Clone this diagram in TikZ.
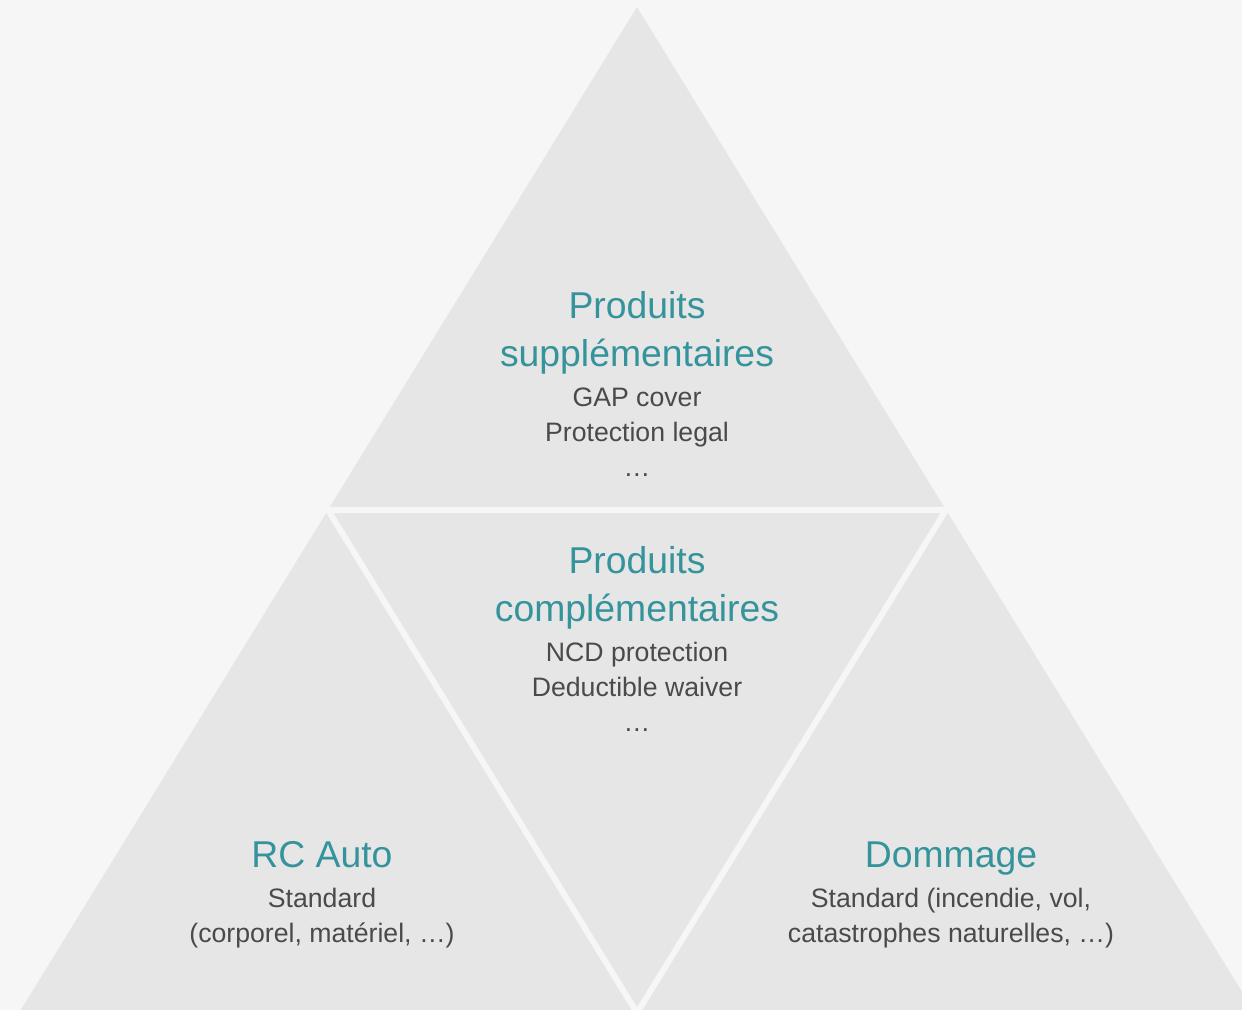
\documentclass[tikz,border=0pt]{standalone}
\usepackage{fontspec}
\setmainfont{Liberation Sans}

\definecolor{fond}{HTML}{F6F6F6}
\definecolor{gris}{HTML}{E6E6E6}
\definecolor{sarcelle}{HTML}{35949B}
\definecolor{texte}{HTML}{4A4A4A}

\tikzset{
  titre/.style={anchor=base, inner sep=0pt, text=sarcelle, font=\fontsize{28}{34}\selectfont},
  detail/.style={anchor=base, inner sep=0pt, text=texte, font=\fontsize{20}{24}\selectfont},
  coupure/.style={draw=fond, line width=4.5pt, line cap=rect}
}

\begin{document}
\begin{tikzpicture}[x=0.75pt, y=0.75pt]
    \fill[fond] (0,0) rectangle (1242,1010);
    \useasboundingbox (0,0) rectangle (1242,1010);
    \clip (0,0) rectangle (1242,1010);

    \coordinate (S) at (637,1003);
    \coordinate (BL) at (19,-3);
    \coordinate (BR) at (1255,-3);
    \coordinate (ML) at (328,500);
    \coordinate (MR) at (946,500);
    \coordinate (MB) at (637,-3);

    \fill[gris] (S) -- (BR) -- (BL) -- cycle;
    \draw[coupure] (ML) -- (MR) -- (MB) -- cycle;

    % haut
    \node[titre] (sup1) at (637,691) {Produits};
    \node[titre] (sup2) at (637,643) {supplémentaires};
    \node[detail] (gap) at (637,603) {GAP cover};
    \node[detail] (legal) at (637,568) {Protection legal};
    \node[detail] (sup3) at (637,533) {…};

    % milieu
    \node[titre] (comp1) at (637,436) {Produits};
    \node[titre] (comp2) at (637,388) {complémentaires};
    \node[detail] (ncd) at (637,348) {NCD protection};
    \node[detail] (waiver) at (637,313) {Deductible waiver};
    \node[detail] (comp3) at (637,278) {…};

    % gauche
    \node[titre] (rc) at (322,142) {RC Auto};
    \node[detail] (rc1) at (322,102) {Standard};
    \node[detail] (rc2) at (322,67) {(corporel, matériel, …)};

    % droite
    \node[titre] (dom) at (951,142) {Dommage};
    \node[detail] (dom1) at (951,102) {Standard (incendie, vol,};
    \node[detail] (dom2) at (951,67) {catastrophes naturelles, …)};
\end{tikzpicture}
\end{document}
